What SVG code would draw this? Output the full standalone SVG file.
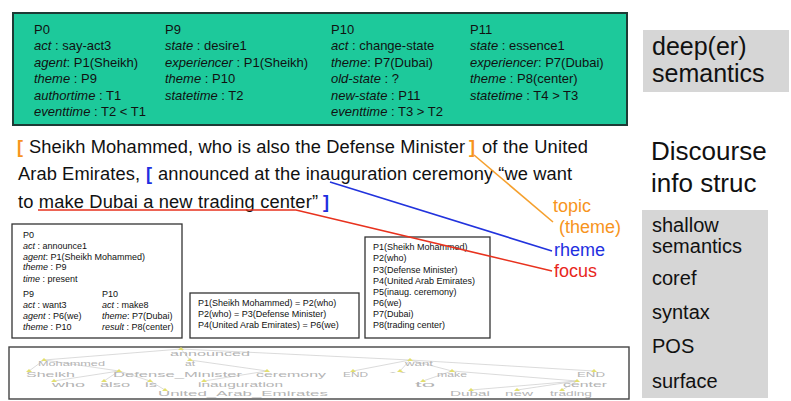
<svg xmlns="http://www.w3.org/2000/svg" width="791" height="401" viewBox="0 0 791 401">
  <style>
    text { font-family: "Liberation Sans", Arial, sans-serif; }
    .frame { font-size: 13px; fill: #111; }
    .i { font-style: italic; }
    .label { fill: #d6d6d6; }
    .lvl { font-size: 25px; fill: #111; }
    .lvl2 { font-size: 20px; fill: #111; }
    .disc { font-size: 26px; fill: #111; }
    .sent { font-size: 18.3px; fill: #111; }
    .brk-o { font-size: 18px; fill: #f7941d; font-weight: bold; }
    .brk-b { font-size: 18px; fill: #1f2fe0; font-weight: bold; }
    .tag { font-size: 18px; }
    .box { fill: #fff; stroke: #333; stroke-width: 1.3; }
    .small { font-size: 9px; fill: #111; }
    .conn { fill: none; stroke-width: 1.6; }
    .tree-edge { stroke: #d2d2d2; stroke-width: 0.8; fill: none; }
    .tree-word { font-size: 7px; fill: #b4b4b4; }
    .tri { fill: #e3df6e; }
  </style>

  <!-- deep semantic frames -->
  <g id="frames">
    <rect x="13" y="13" width="614" height="112" fill="#1dc99b" stroke="#1d3b35" stroke-width="2"/>
    <text class="frame" x="34" y="34">P0</text>
    <text class="frame" x="34" y="50"><tspan class="i">act</tspan> : say-act3</text>
    <text class="frame" x="34" y="67"><tspan class="i">agent</tspan>: P1(Sheikh)</text>
    <text class="frame" x="34" y="83"><tspan class="i">theme</tspan> : P9</text>
    <text class="frame" x="34" y="100"><tspan class="i">authortime</tspan> : T1</text>
    <text class="frame" x="34" y="116"><tspan class="i">eventtime</tspan> : T2 &lt; T1</text>

    <text class="frame" x="165" y="34">P9</text>
    <text class="frame" x="165" y="50"><tspan class="i">state</tspan> : desire1</text>
    <text class="frame" x="165" y="67"><tspan class="i">experiencer</tspan> : P1(Sheikh)</text>
    <text class="frame" x="165" y="83"><tspan class="i">theme</tspan> : P10</text>
    <text class="frame" x="165" y="100"><tspan class="i">statetime</tspan> : T2</text>

    <text class="frame" x="331" y="34">P10</text>
    <text class="frame" x="331" y="50"><tspan class="i">act</tspan> : change-state</text>
    <text class="frame" x="331" y="67"><tspan class="i">theme</tspan>: P7(Dubai)</text>
    <text class="frame" x="331" y="83"><tspan class="i">old-state</tspan> : ?</text>
    <text class="frame" x="331" y="100"><tspan class="i">new-state</tspan> : P11</text>
    <text class="frame" x="331" y="116"><tspan class="i">eventtime</tspan> : T3 &gt; T2</text>

    <text class="frame" x="470" y="34">P11</text>
    <text class="frame" x="470" y="50"><tspan class="i">state</tspan> : essence1</text>
    <text class="frame" x="470" y="67"><tspan class="i">experiencer</tspan>: P7(Dubai)</text>
    <text class="frame" x="470" y="83"><tspan class="i">theme</tspan> : P8(center)</text>
    <text class="frame" x="470" y="100"><tspan class="i">statetime</tspan> : T4 &gt; T3</text>
  </g>

  <!-- level labels -->
  <g id="level-deep">
    <rect class="label" x="643" y="30" width="146" height="62"/>
    <text class="lvl" x="652" y="55">deep(er)</text>
    <text class="lvl" x="652" y="82">semantics</text>
  </g>
  <g id="level-discourse">
    <text class="disc" x="651" y="160">Discourse</text>
    <text class="disc" x="651" y="192">info struc</text>
  </g>
  <g id="level-shallow">
    <rect class="label" x="642" y="210" width="126" height="188"/>
    <text class="lvl2" x="652" y="232">shallow</text>
    <text class="lvl2" x="652" y="253">semantics</text>
    <text class="lvl2" x="652" y="285">coref</text>
    <text class="lvl2" x="652" y="319">syntax</text>
    <text class="lvl2" x="652" y="353">POS</text>
    <text class="lvl2" x="652" y="388">surface</text>
  </g>

  <!-- sentence -->
  <g id="sentence">
    <text class="brk-o" x="17" y="153">[</text>
    <text class="sent" x="29" y="153" textLength="436">Sheikh Mohammed, who is also the Defense Minister</text>
    <text class="brk-o" x="469" y="153">]</text>
    <text class="sent" x="482" y="153" textLength="106">of the United</text>
    <text class="sent" x="18" y="180" textLength="122">Arab Emirates,</text>
    <text class="brk-b" x="146" y="180">[</text>
    <text class="sent" x="158" y="180" textLength="414">announced at the inauguration ceremony “we want</text>
    <text class="sent" x="18" y="208" textLength="300">to make Dubai a new trading center”</text>
    <text class="brk-b" x="323" y="208">]</text>
  </g>

  <!-- information-structure labels -->
  <g id="topic">
    <text class="tag" x="553" y="212" fill="#f7941d">topic</text>
    <text class="tag" x="559" y="233" fill="#f7941d">(theme)</text>
  </g>
  <g id="rheme">
    <text class="tag" x="554" y="256" fill="#1f2fe0">rheme</text>
  </g>
  <g id="focus">
    <text class="tag" x="554" y="277" fill="#e8261c">focus</text>
  </g>

  <!-- shallow semantics frames -->
  <g id="shallow-frames">
    <rect class="box" x="12" y="224" width="170" height="114"/>
    <text class="small" x="23" y="238">P0</text>
    <text class="small" x="23" y="249"><tspan class="i">act</tspan> : announce1</text>
    <text class="small" x="23" y="260"><tspan class="i">agent</tspan>: P1(Sheikh Mohammed)</text>
    <text class="small" x="23" y="270"><tspan class="i">theme</tspan> : P9</text>
    <text class="small" x="23" y="282"><tspan class="i">time</tspan> : present</text>
    <text class="small" x="23" y="297">P9</text>
    <text class="small" x="23" y="308"><tspan class="i">act</tspan> : want3</text>
    <text class="small" x="23" y="319"><tspan class="i">agent</tspan> : P6(we)</text>
    <text class="small" x="23" y="330"><tspan class="i">theme</tspan> : P10</text>
    <text class="small" x="102" y="297">P10</text>
    <text class="small" x="102" y="308"><tspan class="i">act</tspan> : make8</text>
    <text class="small" x="102" y="319"><tspan class="i">theme</tspan>: P7(Dubai)</text>
    <text class="small" x="102" y="330"><tspan class="i">result</tspan> : P8(center)</text>
  </g>

  <!-- coreference chains -->
  <g id="coref">
    <rect class="box" x="190" y="293" width="169" height="45"/>
    <text class="small" x="198" y="306">P1(Sheikh Mohammed) = P2(who)</text>
    <text class="small" x="198" y="317">P2(who) = P3(Defense Minister)</text>
    <text class="small" x="198" y="328">P4(United Arab Emirates) = P6(we)</text>
  </g>

  <!-- entity list -->
  <g id="entities">
    <rect class="box" x="365" y="237" width="125" height="101"/>
    <text class="small" x="373" y="250">P1(Sheikh Mohammed)</text>
    <text class="small" x="373" y="261">P2(who)</text>
    <text class="small" x="373" y="273">P3(Defense Minister)</text>
    <text class="small" x="373" y="284">P4(United Arab Emirates)</text>
    <text class="small" x="373" y="295">P5(inaug. ceremony)</text>
    <text class="small" x="373" y="306">P6(we)</text>
    <text class="small" x="373" y="317">P7(Dubai)</text>
    <text class="small" x="373" y="328">P8(trading center)</text>
  </g>

  <!-- connectors from sentence spans to labels -->
  <g id="connectors">
    <path class="conn" stroke="#f5a02e" d="M474 155 L553 222"/>
    <path class="conn" stroke="#2233dd" d="M330 182 L552 251"/>
    <path class="conn" stroke="#e8321e" d="M38 210 L296 210 L552 271"/>
  </g>

  <!-- dependency tree thumbnail -->
  <g id="tree">
    <rect x="9" y="347" width="620" height="52" fill="#fff" stroke="#444" stroke-width="1.4"/>
    <g class="tree-edge">
      <path d="M181 349 L44 360 M181 349 L190 360 M181 349 L410 360"/>
      <path d="M44 360 L29 371 M44 360 L119 371"/>
      <path d="M119 371 L54 381 M119 371 L104 381 M119 371 L150 381 M150 381 L165 390"/>
      <path d="M190 360 L267 371 M267 371 L204 381"/>
      <path d="M410 360 L353 371 M410 360 L400 371 M410 360 L452 371 M410 360 L594 371"/>
      <path d="M452 371 L423 381 M452 371 L577 381"/>
      <path d="M577 381 L471 390 M577 381 L517 390 M577 381 L562 390"/>
    </g>
    <g class="tri">
      <path d="M178 350 L181 347 L184 350 Z"/>
      <path d="M41 361 L44 358 L47 361 Z"/>
      <path d="M187 361 L190 358 L193 361 Z"/>
      <path d="M407 361 L410 358 L413 361 Z"/>
      <path d="M26 372 L29 369 L32 372 Z"/>
      <path d="M116 372 L119 369 L122 372 Z"/>
      <path d="M264 372 L267 369 L270 372 Z"/>
      <path d="M350 372 L353 369 L356 372 Z"/>
      <path d="M397 372 L400 369 L403 372 Z"/>
      <path d="M449 372 L452 369 L455 372 Z"/>
      <path d="M591 372 L594 369 L597 372 Z"/>
      <path d="M51 382 L54 379 L57 382 Z"/>
      <path d="M101 382 L104 379 L107 382 Z"/>
      <path d="M147 382 L150 379 L153 382 Z"/>
      <path d="M201 382 L204 379 L207 382 Z"/>
      <path d="M420 382 L423 379 L426 382 Z"/>
      <path d="M574 382 L577 379 L580 382 Z"/>
      <path d="M162 391 L165 388 L168 391 Z"/>
      <path d="M468 391 L471 388 L474 391 Z"/>
      <path d="M514 391 L517 388 L520 391 Z"/>
      <path d="M559 391 L562 388 L565 391 Z"/>
    </g>
    <g>
      <text class="tree-word" x="170" y="356" textLength="80" lengthAdjust="spacingAndGlyphs">announced</text>
      <text class="tree-word" x="38" y="366" textLength="67" lengthAdjust="spacingAndGlyphs">Mohammed</text>
      <text class="tree-word" x="185" y="366" textLength="10" lengthAdjust="spacingAndGlyphs">at</text>
      <text class="tree-word" x="405" y="366" textLength="28" lengthAdjust="spacingAndGlyphs">want</text>
      <text class="tree-word" x="26" y="377" textLength="49" lengthAdjust="spacingAndGlyphs">Sheikh</text>
      <text class="tree-word" x="113" y="377" textLength="129" lengthAdjust="spacingAndGlyphs">Defense_Minister</text>
      <text class="tree-word" x="256" y="377" textLength="70" lengthAdjust="spacingAndGlyphs">ceremony</text>
      <text class="tree-word" x="343" y="377" textLength="25" lengthAdjust="spacingAndGlyphs">END</text>
      <text class="tree-word" x="388" y="377" textLength="20" lengthAdjust="spacingAndGlyphs">``</text>
      <text class="tree-word" x="437" y="377" textLength="30" lengthAdjust="spacingAndGlyphs">make</text>
      <text class="tree-word" x="577" y="377" textLength="28" lengthAdjust="spacingAndGlyphs">END</text>
      <text class="tree-word" x="52" y="387" textLength="33" lengthAdjust="spacingAndGlyphs">who</text>
      <text class="tree-word" x="100" y="387" textLength="30" lengthAdjust="spacingAndGlyphs">also</text>
      <text class="tree-word" x="145" y="387" textLength="12" lengthAdjust="spacingAndGlyphs">is</text>
      <text class="tree-word" x="198" y="387" textLength="85" lengthAdjust="spacingAndGlyphs">inauguration</text>
      <text class="tree-word" x="415" y="387" textLength="20" lengthAdjust="spacingAndGlyphs">to</text>
      <text class="tree-word" x="563" y="387" textLength="44" lengthAdjust="spacingAndGlyphs">center</text>
      <text class="tree-word" x="158" y="396" textLength="170" lengthAdjust="spacingAndGlyphs">United_Arab_Emirates</text>
      <text class="tree-word" x="450" y="396" textLength="40" lengthAdjust="spacingAndGlyphs">Dubai</text>
      <text class="tree-word" x="505" y="396" textLength="28" lengthAdjust="spacingAndGlyphs">new</text>
      <text class="tree-word" x="550" y="396" textLength="42" lengthAdjust="spacingAndGlyphs">trading</text>
    </g>
  </g>
</svg>
